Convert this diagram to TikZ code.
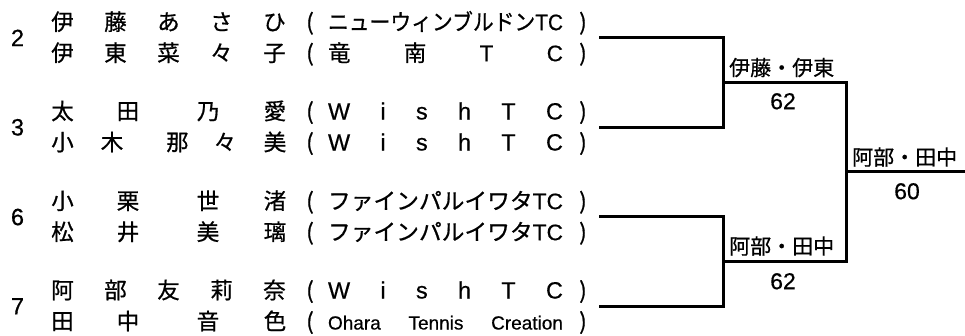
\documentclass[tikz,border=0pt]{standalone}
\usepackage{fontspec}
\usepackage{graphicx}
\setmainfont{Noto Sans CJK JP}[FakeBold=0.7]
\newfontfamily\lat{Liberation Sans}[FakeBold=0.5]
\tikzset{
  cell/.style={font=\fontsize{22.5}{24}\selectfont, inner sep=0pt, anchor=base},
  seed/.style={font=\lat\fontsize{23.5}{24}\selectfont, inner sep=0pt, anchor=base},
  win/.style={font=\fontsize{21}{23}\selectfont, inner sep=0pt, anchor=base west},
  score/.style={font=\lat\fontsize{23}{23}\selectfont, inner sep=0pt, anchor=base},
  bracket/.style={line width=3pt, line join=miter},
}
\newcommand{\clubw}{235pt}
\newcommand{\fitclub}[1]{\resizebox{\clubw}{\height}{#1}}
\newcommand{\spreadclub}[1]{\makebox[\clubw]{#1}}

\begin{document}
\begin{tikzpicture}[x=1pt,y=-1pt]
    \useasboundingbox (0,0) rectangle (965,335);
    % seeds
    \foreach \s/\y in {2/46.1,3/135.4,6/225.1,7/314.4}
        \node[seed] (sd\s) at (17.5,\y) {\s};
    % players
    \foreach \c [count=\k] in {伊,藤,あ,さ,ひ}
        \node[cell] (p1-\k) at ({62.5+53*(\k-1)},30.2) {\c};
    \foreach \c [count=\k] in {伊,東,菜,々,子}
        \node[cell] (p2-\k) at ({62.5+53*(\k-1)},61.2) {\c};
    \foreach \x/\c [count=\k] in {62.5/太,128/田,208/乃,275/愛}
        \node[cell] (p3-\k) at (\x,119.5) {\c};
    \foreach \x/\c [count=\k] in {62.5/小,112/木,177.5/那,225/々,275/美}
        \node[cell] (p4-\k) at (\x,150.5) {\c};
    \foreach \x/\c [count=\k] in {62.5/小,128/栗,208/世,275/渚}
        \node[cell] (p5-\k) at (\x,209.2) {\c};
    \foreach \x/\c [count=\k] in {62.5/松,128/井,208/美,275/璃}
        \node[cell] (p6-\k) at (\x,240.2) {\c};
    \foreach \c [count=\k] in {阿,部,友,莉,奈}
        \node[cell] (p7-\k) at ({62.5+53*(\k-1)},298.5) {\c};
    \foreach \x/\c [count=\k] in {62.5/田,128/中,208/音,275/色}
        \node[cell] (p8-\k) at (\x,329.5) {\c};
    % clubs
    \foreach \y [count=\k] in {30.2,61.2,119.5,150.5,209.2,240.2,298.5,329.5}{
        \node[cell] (lp\k) at (310,\y) {(};
        \node[cell] (rp\k) at (583,\y) {)};
    }
    \node[cell] (c1) at (445.5,30.2) {\fitclub{ニューウィンブルドン{\lat TC}}};
    \node[cell] (c2) at (445.5,61.2) {\spreadclub{竜\hfill 南\hfill{\lat T}\hfill{\lat C}}};
    \node[cell] (c3) at (445.5,119.5) {\spreadclub{\lat\fontsize{23.5}{24}\selectfont W\hfill i\hfill s\hfill h\hfill T\hfill C}};
    \node[cell] (c4) at (445.5,150.5) {\spreadclub{\lat\fontsize{23.5}{24}\selectfont W\hfill i\hfill s\hfill h\hfill T\hfill C}};
    \node[cell] (c5) at (445.5,209.2) {\fitclub{ファインパルイワタ{\lat TC}}};
    \node[cell] (c6) at (445.5,240.2) {\fitclub{ファインパルイワタ{\lat TC}}};
    \node[cell] (c7) at (445.5,298.5) {\spreadclub{\lat\fontsize{23.5}{24}\selectfont W\hfill i\hfill s\hfill h\hfill T\hfill C}};
    \node[cell] (c8) at (445.5,329.5) {\spreadclub{\lat\fontsize{19}{20}\selectfont Ohara\hfill Tennis\hfill Creation}};
    % draw
    \coordinate (e2) at (599,37.7);
    \coordinate (e3) at (599,127);
    \coordinate (e6) at (599,216.7);
    \coordinate (e7) at (599,306);
    \coordinate (m1) at (723,82.3);
    \coordinate (m2) at (723,261.3);
    \coordinate (fin) at (846,171.8);
    \coordinate (top) at (965,171.8);
    \draw[bracket] (e2) -| (m1) |- (e3);
    \draw[bracket] (e6) -| (m2) |- (e7);
    \draw[bracket] (m1) -| (fin) |- (m2);
    \draw[bracket] (fin) -- (top);
    \node[win] (w1) at (729,75.5) {伊藤・伊東};
    \node[score] (sc1) at (783,109.2) {62};
    \node[win] (w2) at (729,254) {阿部・田中};
    \node[score] (sc2) at (783,289.2) {62};
    \node[win] (w3) at (852,165) {阿部・田中};
    \node[score] (sc3) at (907,199.2) {60};
\end{tikzpicture}
\end{document}
